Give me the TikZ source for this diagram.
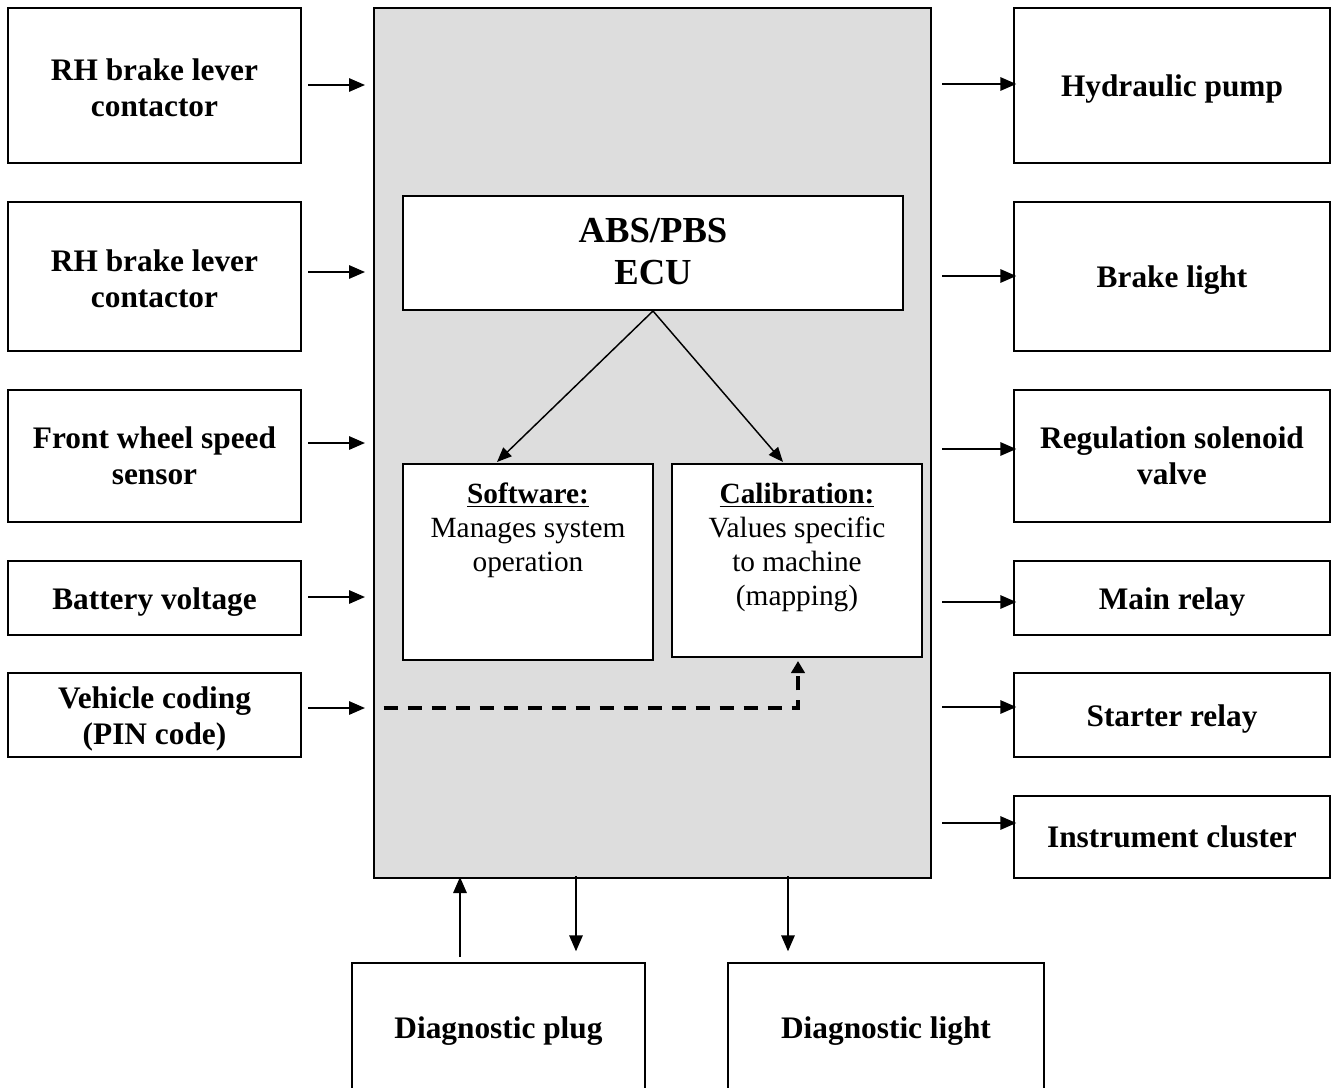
\documentclass[tikz,border=0pt]{standalone}
\usepackage{fontspec}
\setmainfont{Liberation Serif}
\usetikzlibrary{arrows.meta,positioning,fit,calc}

\definecolor{ecugray}{HTML}{DDDDDD}
\tikzset{
  box/.style={draw, line width=1.5pt, fill=white, inner sep=0pt},
  lbl/.style={font=\fontsize{23.5}{27}\selectfont\bfseries, align=center, inner sep=0pt},
  lbldown/.style={lbl, yshift=-3pt},
  txt/.style={font=\fontsize{22}{25.5}\selectfont, align=center, inner sep=0pt},
  arr/.style={line width=1.5pt, -{Triangle[length=12pt,width=10pt]}},
  thinarr/.style={line width=1.1pt, -{Triangle[length=11pt,width=9pt]}},
  dasharr/.style={line width=3pt, dash pattern=on 10.5pt off 7.5pt, -{Triangle[length=9pt,width=10pt]}},
}

\begin{document}
\begin{tikzpicture}[x=0.75pt,y=-0.75pt]
\useasboundingbox (0,0) rectangle (1332,1088);
\clip (0,0) rectangle (1332,1088);

% control unit
\node[draw, line width=1.5pt, fill=ecugray, inner sep=0pt, fit={(374,8) (931,878)}] (unit) {};
\node[box, fit={(403,196) (903,310)},
  label={[lbl, font=\fontsize{27.5}{32}\selectfont\bfseries, yshift=1pt]center:ABS/PBS\\ECU}] (ecu) {};
\node[box, fit={(403,464) (653,660)}] (sw) {};
\node[box, fit={(672,464) (922,657)}] (cal) {};
\node[txt, anchor=north] (swtxt) at (sw.north |- 0,483) {\textbf{\underline{Software:}}\\Manages system\\operation};
\node[txt, anchor=north] (caltxt) at (cal.north |- 0,483) {\textbf{\underline{Calibration:}}\\Values specific\\to machine\\(mapping)};

% inputs
\node[box, fit={(8,8) (301,163)}, label={[lbl, yshift=-1.5pt]center:RH brake lever\\contactor}] (rh1) {};
\node[box, fit={(8,202) (301,351)}, label={[lbl, yshift=-1.5pt]center:RH brake lever\\contactor}] (rh2) {};
\node[box, fit={(8,390) (301,522)}, label={[lbl]center:Front wheel speed\\sensor}] (fws) {};
\node[box, fit={(8,561) (301,635)}, label={[lbldown]center:Battery voltage}] (batt) {};
\node[box, fit={(8,673) (301,757)}, label={[lbldown]center:Vehicle coding\\(PIN code)}] (pin) {};

% outputs
\node[box, fit={(1014,8) (1330,163)}, label={[lbldown]center:Hydraulic pump}] (pump) {};
\node[box, fit={(1014,202) (1330,351)}, label={[lbldown]center:Brake light}] (blight) {};
\node[box, fit={(1014,390) (1330,522)}, label={[lbl]center:Regulation solenoid\\valve}] (valve) {};
\node[box, fit={(1014,561) (1330,635)}, label={[lbldown]center:Main relay}] (mrelay) {};
\node[box, fit={(1014,673) (1330,757)}, label={[lbldown]center:Starter relay}] (srelay) {};
\node[box, fit={(1014,796) (1330,878)}, label={[lbl]center:Instrument cluster}] (cluster) {};

% diagnostics
\node[box, fit={(352,963) (645,1093)}, label={[lbl, yshift=-2pt]center:Diagnostic plug}] (plug) {};
\node[box, fit={(728,963) (1044,1093)}, label={[lbl, yshift=-2pt]center:Diagnostic light}] (dlight) {};

% connectors
\foreach \n/\y in {rh1/85, rh2/272, fws/443, batt/597, pin/708}
  \draw[arr, shorten <=4.5pt, shorten >=6pt] (\n.east |- 0,\y) -- (unit.west |- 0,\y);
\foreach \n/\y in {pump/84, blight/276, valve/449, mrelay/602, srelay/707, cluster/823}
  \draw[arr, shorten <=7.5pt, shorten >=-2.5pt] (unit.east |- 0,\y) -- (\n.west |- 0,\y);

\draw[thinarr] (ecu.south) -- ($(sw.north)+(-31,-1)$);
\draw[thinarr] (ecu.south) -- ($(cal.north)+(-14,-1)$);

\coordinate (bend) at (798,708);
\draw[dasharr, shorten <=8pt] (unit.west |- bend) -| ($(cal.south -| bend)+(0,3)$);

\draw[arr, shorten <=3.75pt, shorten >=-1.5pt] (plug.north -| 460,0) -- (unit.south -| 460,0);
\draw[arr, shorten <=-2.25pt, shorten >=8pt] (unit.south -| 576,0) -- (plug.north -| 576,0);
\draw[arr, shorten <=-2.25pt, shorten >=8pt] (unit.south -| 788,0) -- (dlight.north -| 788,0);
\end{tikzpicture}
\end{document}
